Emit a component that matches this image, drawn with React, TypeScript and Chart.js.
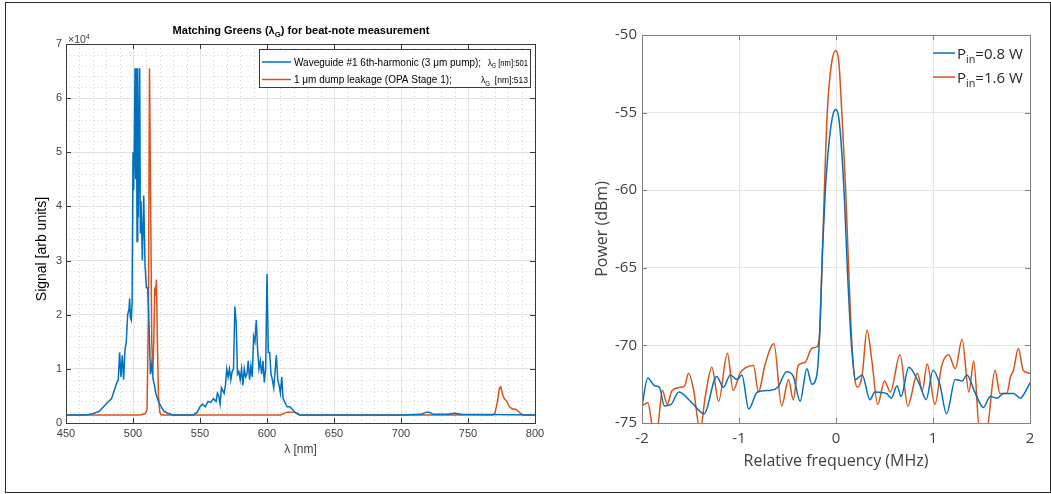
import React, { useEffect, useRef } from "react";
import { Chart, registerables } from "chart.js";
Chart.register(...registerables);

// ---------- Left panel: spectra (raw counts) ----------
const waveguideX = [450, 465, 470, 475, 478, 481, 484, 486, 488, 489, 490, 491, 492, 493, 494, 495, 496, 497, 497.5, 498, 498.7, 499.3, 500, 500.5, 501, 501.5, 502, 502.5, 503, 503.5, 504, 505, 505.5, 506, 507, 508, 509, 510, 511, 512, 513, 514, 515, 516, 517, 519, 521, 523, 526, 530, 545, 548, 550, 552, 554, 556, 558, 560, 562, 563, 564, 565, 566, 568, 569, 570, 571, 572, 573, 574, 575, 576, 577, 578, 579, 580, 581, 582, 583, 584, 585, 586, 587, 588, 589, 590, 591, 592, 593, 594, 595, 596, 597, 598, 599, 600, 601, 602, 603, 604, 605, 606, 607, 608, 609, 610, 611, 612, 613, 615, 617, 619, 621, 624, 700, 715, 719, 721, 724, 735, 740, 745, 800];
const waveguideY = [1500, 1500, 1700, 2200, 3000, 3800, 4500, 6000, 7500, 8000, 13000, 8500, 12500, 8000, 13500, 15000, 20000, 21000, 23000, 19500, 19000, 22000, 50000, 43000, 51000, 65535, 45000, 65535, 33500, 65535, 38000, 65535, 35000, 41000, 30000, 42000, 29000, 25000, 25000, 18000, 9000, 11000, 8000, 7000, 5500, 4000, 3000, 2200, 1800, 1500, 1500, 2000, 3000, 3500, 3000, 4000, 3800, 4500, 4000, 5500, 5000, 3500, 6500, 5500, 7000, 10000, 8500, 10000, 8000, 9500, 10000, 21500, 18500, 9000, 9500, 8000, 10000, 7000, 10000, 8500, 9000, 11500, 8000, 10500, 8500, 16000, 15000, 19000, 13500, 10000, 11500, 9000, 11500, 7500, 10000, 27500, 13000, 13000, 9000, 8000, 6500, 9500, 12500, 8000, 7000, 5500, 8500, 4500, 4000, 3000, 3000, 2500, 2000, 1500, 1500, 1600, 2000, 2000, 1600, 1600, 1800, 1600, 1500];

const dumpX = [450, 505, 509, 510.5, 511.5, 512.3, 513.2, 514, 514.8, 515.5, 516.2, 516.8, 517.5, 518.2, 519, 520, 521, 610, 615, 620, 625, 768, 770, 772, 773.5, 774.5, 775.5, 777, 779, 781, 783, 785, 787, 789, 791, 800];
const dumpY = [1500, 1500, 1700, 2500, 20000, 65535, 40000, 15000, 9000, 15000, 24500, 24000, 26500, 15000, 5000, 2000, 1500, 1500, 2000, 2000, 1500, 1500, 1700, 4000, 6500, 6700, 5500, 4500, 4000, 3000, 2600, 2600, 2300, 1800, 1500, 1500];

// ---------- Right panel: beat note (dBm vs MHz) ----------
const lowPowerX = [-2, -1.94, -1.87, -1.82, -1.77, -1.7, -1.62, -1.5, -1.36, -1.23, -1.16, -1.09, -1.02, -0.97, -0.9, -0.81, -0.68, -0.6, -0.51, -0.44, -0.37, -0.3, -0.25, -0.2, -0.17, -0.14, -0.11, -0.07, -0.03, 0, 0.03, 0.06, 0.09, 0.12, 0.16, 0.2, 0.27, 0.35, 0.4, 0.52, 0.57, 0.63, 0.67, 0.75, 0.86, 0.93, 1.0, 1.07, 1.14, 1.23, 1.3, 1.35, 1.43, 1.52, 1.59, 1.66, 1.73, 1.83, 1.9, 1.96, 2];
const lowPowerY = [-73.9, -72.1, -72.6, -72.7, -73.9, -73.8, -73.0, -73.6, -74.4, -72.0, -72.7, -71.9, -72.2, -71.9, -74.1, -73.0, -72.9, -72.7, -71.7, -72.0, -73.6, -71.5, -72.5, -72.0, -69.5, -64.0, -60.0, -56.8, -55.1, -54.8, -55.4, -57.6, -61.0, -65.5, -70.0, -72.2, -71.9, -73.5, -73.0, -73.1, -73.4, -72.6, -73.3, -71.4, -72.5, -73.5, -71.6, -72.5, -74.4, -72.2, -72.3, -71.9, -73.0, -74.0, -73.3, -73.4, -73.1, -73.1, -73.4, -72.9, -72.4];

const highPowerX = [-2, -1.94, -1.88, -1.84, -1.79, -1.74, -1.69, -1.6, -1.56, -1.52, -1.47, -1.4, -1.35, -1.28, -1.21, -1.12, -1.06, -0.99, -0.92, -0.85, -0.8, -0.73, -0.64, -0.56, -0.49, -0.44, -0.39, -0.32, -0.25, -0.2, -0.17, -0.14, -0.12, -0.09, -0.05, 0, 0.03, 0.06, 0.1, 0.13, 0.16, 0.19, 0.22, 0.27, 0.32, 0.37, 0.43, 0.5, 0.56, 0.66, 0.74, 0.84, 0.89, 0.94, 1.02, 1.09, 1.16, 1.23, 1.3, 1.37, 1.42, 1.48, 1.55, 1.64, 1.69, 1.76, 1.8, 1.83, 1.88, 1.93, 2];
const highPowerY = [-73.9, -73.7, -75.5, -75.3, -72.9, -73.8, -72.9, -72.7, -72.6, -71.8, -72.8, -75.5, -73.4, -71.4, -73.6, -70.5, -72.9, -71.8, -71.4, -71.3, -73.0, -71.2, -69.9, -73.9, -72.2, -73.5, -71.3, -71.1, -70.2, -70.1, -69.4, -64.0, -60.0, -55.0, -52.0, -51.0, -51.8, -55.0, -60.0, -65.0, -69.5, -72.0, -72.7, -71.9, -69.0, -71.0, -73.8, -72.3, -73.0, -70.6, -73.9, -71.8, -72.9, -71.2, -73.8, -71.3, -70.6, -71.5, -69.6, -73.0, -71.0, -75.5, -75.5, -71.6, -73.1, -73.1, -72.0, -71.6, -70.2, -71.6, -71.8];

const leftXTicks = [450, 800, 50];
const leftYTicks = [0, 70000, 10000];
const rightXTicks = [-2, 2, 1];
const rightYTicks = [-75, -50, 5];

const BLUE = "#0072BD";
const ORANGE = "#D95319";
const HELV = '"Liberation Sans", Arial, sans-serif';
const SEGOE = '"Open Sans", "Noto Sans", sans-serif';

type Seg = { t: string; k?: "sub" | "sup" };

function drawRich(
  ctx: CanvasRenderingContext2D,
  segs: Seg[],
  x: number,
  y: number,
  size: number,
  fam: string,
  color: string,
  align: "left" | "center" | "right",
  weight = "normal",
  maxWidth = 0
) {
  const small = size * 0.72;
  const widths = segs.map((s) => {
    ctx.font = `${weight} ${s.k ? small : size}px ${fam}`;
    return ctx.measureText(s.t).width;
  });
  const total = widths.reduce((a, b) => a + b, 0);
  const sx = maxWidth > 0 && total > maxWidth ? maxWidth / total : 1;
  const shown = total * sx;
  const start = align === "left" ? x : align === "center" ? x - shown / 2 : x - shown;
  ctx.save();
  ctx.translate(start, y);
  ctx.scale(sx, 1);
  ctx.fillStyle = color;
  ctx.textAlign = "left";
  ctx.textBaseline = "alphabetic";
  let cx = 0;
  segs.forEach((s, i) => {
    ctx.font = `${weight} ${s.k ? small : size}px ${fam}`;
    const dy = s.k === "sub" ? size * 0.3 : s.k === "sup" ? -size * 0.42 : 0;
    ctx.fillText(s.t, cx, dy);
    cx += widths[i];
  });
  ctx.restore();
}

function boxAndTicks(chart: any, color: string, len: number) {
  const { ctx, chartArea: a, scales } = chart;
  ctx.save();
  ctx.strokeStyle = color;
  ctx.lineWidth = 1;
  ctx.beginPath();
  scales.x.ticks.forEach((t: any) => {
    const px = Math.round(scales.x.getPixelForValue(t.value)) + 0.5;
    ctx.moveTo(px, a.bottom);
    ctx.lineTo(px, a.bottom - len);
    ctx.moveTo(px, a.top);
    ctx.lineTo(px, a.top + len);
  });
  scales.y.ticks.forEach((t: any) => {
    const py = Math.round(scales.y.getPixelForValue(t.value)) + 0.5;
    ctx.moveTo(a.left, py);
    ctx.lineTo(a.left + len, py);
    ctx.moveTo(a.right, py);
    ctx.lineTo(a.right - len, py);
  });
  ctx.stroke();
  ctx.strokeRect(Math.round(a.left) + 0.5, Math.round(a.top) + 0.5, Math.round(a.right - a.left), Math.round(a.bottom - a.top));
  ctx.restore();
}

const leftMinorGrid = {
  id: "leftMinorGrid",
  beforeDatasetsDraw(chart: any) {
    const { ctx, chartArea: a, scales } = chart;
    ctx.save();
    ctx.strokeStyle = "#d4d4d4";
    ctx.lineWidth = 1;
    ctx.setLineDash([1, 3]);
    ctx.beginPath();
    for (let v = leftXTicks[0]; v <= leftXTicks[1]; v += 10) {
      if (v % leftXTicks[2] === 0) continue;
      const px = Math.round(scales.x.getPixelForValue(v)) + 0.5;
      ctx.moveTo(px, a.top);
      ctx.lineTo(px, a.bottom);
    }
    for (let v = leftYTicks[0]; v <= leftYTicks[1]; v += 2000) {
      if (v % leftYTicks[2] === 0) continue;
      const py = Math.round(scales.y.getPixelForValue(v)) + 0.5;
      ctx.moveTo(a.left, py);
      ctx.lineTo(a.right, py);
    }
    ctx.stroke();
    ctx.restore();
  },
  afterDraw(chart: any) {
    const { ctx } = chart;
    boxAndTicks(chart, "#3a3a3a", 5);
    // title
    drawRich(ctx, [{ t: "Matching Greens (λ" }, { t: "G", k: "sub" }, { t: ") for beat-note measurement" }], 301, 34, 11, HELV, "#000", "center", "bold");
    // exponent
    drawRich(ctx, [{ t: "×10" }, { t: "4", k: "sup" }], 68, 43, 10.5, HELV, "#404040", "left");
    // legend
    ctx.save();
    ctx.fillStyle = "#fff";
    ctx.fillRect(259.5, 49.5, 271, 38);
    ctx.strokeStyle = "#3a3a3a";
    ctx.lineWidth = 1;
    ctx.strokeRect(259.5, 49.5, 271, 38);
    ctx.lineWidth = 1.5;
    ctx.strokeStyle = BLUE;
    ctx.beginPath();
    ctx.moveTo(262, 62);
    ctx.lineTo(291, 62);
    ctx.stroke();
    ctx.strokeStyle = ORANGE;
    ctx.beginPath();
    ctx.moveTo(262, 79.5);
    ctx.lineTo(291, 79.5);
    ctx.stroke();
    ctx.restore();
    drawRich(ctx, [{ t: "Waveguide #1 6th-harmonic (3 μm pump);" }], 294, 65.5, 10, HELV, "#000", "left", "normal", 193);
    drawRich(ctx, [{ t: "λ" }, { t: "G", k: "sub" }, { t: " [nm]:501" }], 528, 65.5, 9.5, HELV, "#000", "right", "normal", 40);
    drawRich(ctx, [{ t: "1 μm dump leakage (OPA Stage 1);" }], 294, 83, 10, HELV, "#000", "left", "normal", 160);
    drawRich(ctx, [{ t: "λ" }, { t: "G", k: "sub" }, { t: "  [nm]:513" }], 528, 83, 9.5, HELV, "#000", "right", "normal", 47);
  },
};

const rightDecor = {
  id: "rightDecor",
  afterDraw(chart: any) {
    const { ctx } = chart;
    boxAndTicks(chart, "#808080", 5);
    ctx.save();
    ctx.lineWidth = 1.5;
    ctx.strokeStyle = BLUE;
    ctx.beginPath();
    ctx.moveTo(933 - 560, 53);
    ctx.lineTo(955 - 560, 53);
    ctx.stroke();
    ctx.strokeStyle = ORANGE;
    ctx.beginPath();
    ctx.moveTo(933 - 560, 77);
    ctx.lineTo(955 - 560, 77);
    ctx.stroke();
    ctx.restore();
    drawRich(ctx, [{ t: "P" }, { t: "in", k: "sub" }, { t: "=0.8 W" }], 957 - 560, 58.5, 15, SEGOE, "#262626", "left");
    drawRich(ctx, [{ t: "P" }, { t: "in", k: "sub" }, { t: "=1.6 W" }], 957 - 560, 82.5, 15, SEGOE, "#262626", "left");
  },
};

function pts(xs: number[], ys: number[]) {
  return xs.map((x, i) => ({ x, y: ys[i] }));
}

export default function App() {
  const leftRef = useRef<HTMLCanvasElement>(null);
  const rightRef = useRef<HTMLCanvasElement>(null);

  useEffect(() => {
    const left = new Chart(leftRef.current as HTMLCanvasElement, {
      type: "line",
      data: {
        datasets: [
          { data: pts(waveguideX, waveguideY), borderColor: BLUE, borderWidth: 1.5, pointRadius: 0, tension: 0 },
          { data: pts(dumpX, dumpY), borderColor: ORANGE, borderWidth: 1.5, pointRadius: 0, tension: 0 },
        ],
      },
      options: {
        animation: false,
        responsive: false,
        devicePixelRatio: 1,
        events: [],
        layout: { padding: { left: 0, top: 44, right: 25, bottom: 0 } },
        plugins: { legend: { display: false }, title: { display: false }, tooltip: { enabled: false } },
        scales: {
          x: {
            type: "linear",
            min: leftXTicks[0],
            max: leftXTicks[1],
            ticks: { stepSize: leftXTicks[2], autoSkip: false, maxRotation: 0, padding: 4, color: "#404040", font: { family: HELV, size: 11 } },
            grid: { color: "#e3e3e3", drawTicks: false },
            border: { display: false },
            title: { display: true, text: "λ [nm]", color: "#404040", font: { family: HELV, size: 12 }, padding: { top: 0, bottom: 36.8 } },
            afterFit: (s: any) => { s.height = 71; },
          },
          y: {
            type: "linear",
            min: leftYTicks[0],
            max: leftYTicks[1],
            ticks: { stepSize: leftYTicks[2], padding: 4, color: "#404040", font: { family: HELV, size: 11 }, callback: (v: any) => String(Number(v) / 10000) },
            grid: { color: "#e3e3e3", drawTicks: false },
            border: { display: false },
            title: { display: true, text: "Signal [arb units]" + "\u00a0".repeat(8), color: "#000", font: { family: HELV, size: 14 }, padding: { top: 33.6, bottom: 0 } },
            afterFit: (s: any) => { s.width = 66; },
          },
        },
      },
      plugins: [leftMinorGrid],
    } as any);

    const right = new Chart(rightRef.current as HTMLCanvasElement, {
      type: "line",
      data: {
        datasets: [
          { data: pts(lowPowerX, lowPowerY), borderColor: BLUE, borderWidth: 1.5, pointRadius: 0, cubicInterpolationMode: "monotone" },
          { data: pts(highPowerX, highPowerY), borderColor: ORANGE, borderWidth: 1.5, pointRadius: 0, cubicInterpolationMode: "monotone" },
        ],
      },
      options: {
        animation: false,
        responsive: false,
        devicePixelRatio: 1,
        events: [],
        layout: { padding: { left: 0, top: 35, right: 21, bottom: 0 } },
        plugins: { legend: { display: false }, title: { display: false }, tooltip: { enabled: false } },
        scales: {
          x: {
            type: "linear",
            min: rightXTicks[0],
            max: rightXTicks[1],
            ticks: { stepSize: rightXTicks[2], autoSkip: false, maxRotation: 0, padding: 7, color: "#404040", font: { family: SEGOE, size: 15 } },
            grid: { color: "#e6e6e6", drawTicks: false },
            border: { display: false },
            title: { display: true, text: "Relative frequency (MHz)", color: "#404040", font: { family: SEGOE, size: 16 }, padding: { top: 0, bottom: 22.7 } },
            afterFit: (s: any) => { s.height = 71; },
          },
          y: {
            type: "linear",
            min: rightYTicks[0],
            max: rightYTicks[1],
            ticks: { stepSize: rightYTicks[2], padding: 5, color: "#404040", font: { family: SEGOE, size: 15 } },
            grid: { color: "#e6e6e6", drawTicks: false },
            border: { display: false },
            title: { display: true, text: "Power (dBm)", color: "#404040", font: { family: SEGOE, size: 16 }, padding: { top: 33, bottom: 0 } },
            afterFit: (s: any) => { s.width = 82; },
          },
        },
      },
      plugins: [rightDecor],
    } as any);

    return () => {
      left.destroy();
      right.destroy();
    };
  }, []);

  return (
    <div style={{ position: "absolute", left: 0, top: 0, width: 1051, height: 494, background: "#fff", overflow: "hidden" }}>
      <canvas ref={leftRef} width={560} height={494} style={{ position: "absolute", left: 0, top: 0, width: 560, height: 494 }} />
      <canvas ref={rightRef} width={491} height={494} style={{ position: "absolute", left: 560, top: 0, width: 491, height: 494 }} />
      <div style={{ position: "absolute", left: 5, top: 2, width: 1046, height: 491, border: "1px solid #2a2a2a", boxSizing: "border-box", pointerEvents: "none" }} />
    </div>
  );
}
